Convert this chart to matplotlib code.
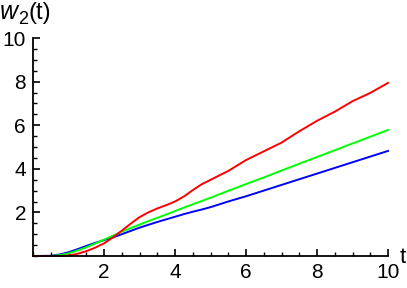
import numpy as np
import matplotlib
matplotlib.use("Agg")
from matplotlib import pyplot as plt
from matplotlib.ticker import MultipleLocator

# values
t = [0, 0.5, 0.75, 1.0, 1.25, 1.5, 1.75, 2.0, 2.25, 2.5, 2.75, 3.0, 3.25, 3.5, 3.75,
     4.0, 4.25, 4.5, 4.75, 5.0, 5.25, 5.5, 5.75, 6.0, 6.5, 7.0, 7.5, 8.0, 8.5, 9.0,
     9.5, 10.0]
w_red = [0, 0, 0, 0.02, 0.1, 0.22, 0.38, 0.58, 0.85, 1.16, 1.48, 1.78, 2.0, 2.18, 2.33,
         2.5, 2.73, 3.02, 3.29, 3.49, 3.7, 3.9, 4.15, 4.4, 4.8, 5.2, 5.72, 6.2, 6.62, 7.1,
         7.48, 7.94]
w_green = [0, 0, 0.04, 0.12, 0.25, 0.4, 0.57, 0.75, 0.93, 1.12, 1.28, 1.44, 1.6, 1.75, 1.9,
           2.06, 2.22, 2.37, 2.52, 2.67, 2.83, 2.99, 3.14, 3.3, 3.6, 3.92, 4.23, 4.54, 4.85, 5.16,
           5.47, 5.78]
w_blue = [0, 0.01, 0.07, 0.17, 0.31, 0.46, 0.6, 0.73, 0.85, 1.0, 1.15, 1.3, 1.43, 1.56, 1.68,
          1.8, 1.92, 2.03, 2.13, 2.24, 2.37, 2.5, 2.62, 2.74, 3.0, 3.26, 3.52, 3.78, 4.04, 4.3,
          4.56, 4.82]

plt.rcParams['font.family'] = ['Liberation Sans', 'DejaVu Sans']

W, H = 407, 288
fig = plt.figure(figsize=(W/100, H/100), dpi=100)
ax = fig.add_axes([33/W, 32/H, 355/W, 218/H])

ax.plot(t, w_blue, color='#0000ff', lw=1.4, clip_on=False)
ax.plot(t, w_green, color='#00ff00', lw=1.4, clip_on=False)
ax.plot(t, w_red, color='#ff0000', lw=1.4, clip_on=False)

ax.set_xlim(0, 10)
ax.set_ylim(0, 10)
for s in ['top', 'right']:
    ax.spines[s].set_visible(False)
for s in ['left', 'bottom']:
    ax.spines[s].set_linewidth(1.3)

ax.xaxis.set_minor_locator(MultipleLocator(0.5))
ax.yaxis.set_minor_locator(MultipleLocator(0.5))
ax.set_xticks([2, 4, 6, 8, 10])
ax.set_yticks([2, 4, 6, 8, 10])
ax.tick_params(which='major', direction='in', length=5, width=1.2, labelsize=15, pad=5)
ax.tick_params(which='minor', direction='in', length=3, width=1.0)

# axis labels, placed in pixels from the top-left
ax.text((400-33)/355, -(263-256)/218, 't', transform=ax.transAxes, fontsize=16,
        ha='left', va='baseline')
fig.text(0/W, 1 - 19/H, 'w', fontsize=18, style='italic', ha='left', va='baseline')
fig.text(18/W, 1 - 24/H, '2', fontsize=13, ha='left', va='baseline')
fig.text(28/W, 1 - 19/H, '(t)', fontsize=17, ha='left', va='baseline')

fig.savefig('out.png', dpi=100)
